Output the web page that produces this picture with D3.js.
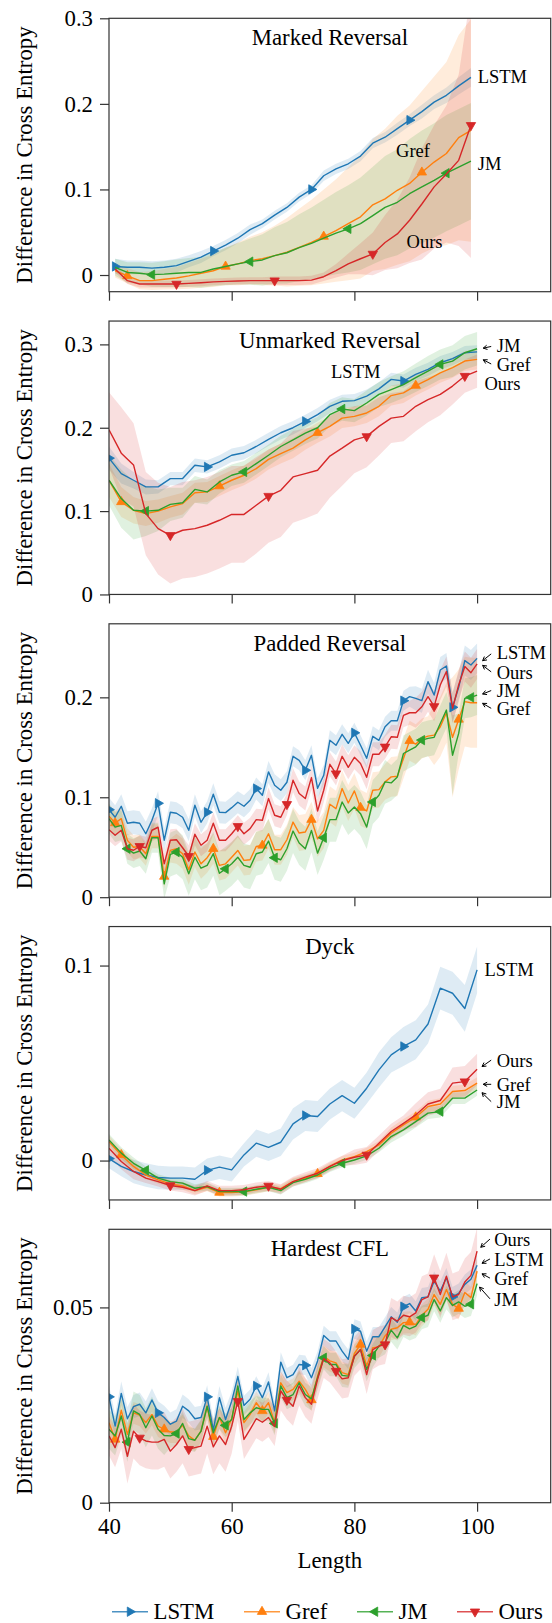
<!DOCTYPE html>
<html>
<head>
<meta charset="utf-8">
<script src="https://cdn.jsdelivr.net/npm/d3@7"></script>
<style>
  body { margin: 0; background: #fff; }
  text { font-family: "Liberation Serif", "Times New Roman", serif; }
</style>
</head>
<body>
<script>
// lengths on the x axis
let lengthsOdd = [41,43,45,47,49,51,53,55,57,59,61,63,65,67,69,71,73,75,77,79,81,83,85,87,89,91,93,95,97,99];
let lengthsEven = [40,42,44,46,48,50,52,54,56,58,60,62,64,66,68,70,72,74,76,78,80,82,84,86,88,90,92,94,96,98,100];
let lengthsAll = [40,41,42,43,44,45,46,47,48,49,50,51,52,53,54,55,56,57,58,59,60,61,62,63,64,65,66,67,68,69,70,
  71,72,73,74,75,76,77,78,79,80,81,82,83,84,85,86,87,88,89,90,91,92,93,94,95,96,97,98,99,100];

let xTicks = [40, 60, 80, 100];

// Marked Reversal
let markedLSTM = [0.010,0.009,0.009,0.008,0.009,0.011,0.016,0.021,0.028,0.035,0.043,0.053,0.060,0.070,0.079,0.091,0.100,0.116,0.124,0.130,0.139,0.154,0.161,0.171,0.181,0.191,0.202,0.210,0.221,0.231];
let markedLSTMStd = [0.009,0.008,0.008,0.008,0.008,0.008,0.007,0.007,0.006,0.006,0.006,0.006,0.005,0.005,0.005,0.005,0.005,0.006,0.006,0.006,0.006,0.006,0.006,0.007,0.007,0.008,0.008,0.009,0.010,0.011];
let markedGref = [0.005,-0.001,-0.0066,-0.0066,-0.005,-0.0035,-0.001,0.002,0.005,0.010,0.013,0.0168,0.019,0.0227,0.0266,0.0324,0.038,0.045,0.052,0.060,0.068,0.082,0.089,0.099,0.107,0.120,0.132,0.142,0.1605,0.169];
let markedGrefStd = [0.008,0.009,0.010,0.011,0.012,0.013,0.015,0.017,0.019,0.022,0.025,0.028,0.031,0.035,0.040,0.045,0.050,0.055,0.060,0.066,0.072,0.077,0.082,0.087,0.091,0.095,0.100,0.107,0.120,0.130];
let markedJM = [0.009,0.003,0.002,0.0004,0.001,0.002,0.003,0.003,0.007,0.010,0.013,0.0156,0.0176,0.0227,0.026,0.032,0.037,0.043,0.049,0.054,0.060,0.0695,0.079,0.085,0.095,0.103,0.1105,0.119,0.126,0.133];
let markedJMStd = [0.010,0.012,0.013,0.014,0.015,0.016,0.017,0.018,0.020,0.022,0.024,0.027,0.030,0.033,0.036,0.039,0.042,0.045,0.048,0.051,0.054,0.057,0.060,0.062,0.064,0.066,0.067,0.068,0.068,0.068];
let markedOurs = [0.007,-0.0066,-0.0105,-0.0105,-0.0105,-0.0105,-0.0098,-0.009,-0.008,-0.0074,-0.007,-0.0066,-0.0066,-0.0066,-0.0066,-0.0066,-0.006,-0.002,0.005,0.013,0.019,0.0246,0.038,0.048,0.064,0.083,0.103,0.118,0.134,0.175];
let markedOursStd = [0.004,0.004,0.004,0.004,0.004,0.004,0.004,0.004,0.004,0.004,0.004,0.004,0.004,0.005,0.005,0.005,0.005,0.005,0.008,0.012,0.018,0.025,0.032,0.040,0.050,0.065,0.072,0.080,0.100,0.155];

// Unmarked Reversal
let unmarkedLSTM = [0.1635,0.145,0.137,0.129,0.129,0.139,0.139,0.155,0.153,0.159,0.167,0.170,0.1775,0.186,0.194,0.200,0.2076,0.2157,0.2257,0.2317,0.2325,0.238,0.2466,0.258,0.256,0.264,0.270,0.278,0.283,0.290,0.291];
let unmarkedLSTMStd = [0.014,0.012,0.010,0.009,0.008,0.008,0.008,0.008,0.008,0.008,0.008,0.008,0.008,0.008,0.008,0.008,0.008,0.008,0.008,0.008,0.008,0.008,0.008,0.008,0.008,0.008,0.008,0.008,0.008,0.008,0.008];
let unmarkedGref = [0.137,0.111,0.101,0.097,0.100,0.105,0.109,0.122,0.123,0.130,0.137,0.143,0.151,0.162,0.169,0.1755,0.1855,0.194,0.2016,0.2116,0.2137,0.2177,0.2257,0.2386,0.2418,0.2506,0.2578,0.2659,0.272,0.280,0.282];
let unmarkedGrefStd = [0.020,0.018,0.016,0.015,0.014,0.013,0.013,0.012,0.012,0.012,0.012,0.012,0.012,0.012,0.012,0.012,0.012,0.012,0.012,0.012,0.012,0.012,0.012,0.012,0.012,0.012,0.012,0.012,0.012,0.012,0.012];
let unmarkedJM = [0.137,0.115,0.101,0.100,0.101,0.108,0.110,0.126,0.123,0.135,0.143,0.147,0.157,0.167,0.1775,0.1855,0.1936,0.200,0.2157,0.2225,0.2205,0.2297,0.240,0.2458,0.2518,0.260,0.268,0.276,0.280,0.290,0.2948];
let unmarkedJMStd = [0.030,0.035,0.035,0.030,0.025,0.020,0.018,0.016,0.015,0.014,0.013,0.013,0.013,0.013,0.013,0.013,0.013,0.013,0.014,0.014,0.014,0.015,0.015,0.016,0.016,0.017,0.018,0.018,0.019,0.020,0.020];
let unmarkedOurs = [0.1976,0.1695,0.1554,0.097,0.079,0.071,0.077,0.079,0.083,0.089,0.096,0.096,0.107,0.118,0.125,0.141,0.145,0.149,0.166,0.1755,0.1855,0.1896,0.2016,0.2116,0.2137,0.2257,0.2337,0.240,0.250,0.262,0.268];
let unmarkedOursStd = [0.045,0.055,0.050,0.050,0.055,0.058,0.058,0.058,0.058,0.058,0.058,0.058,0.058,0.056,0.056,0.055,0.054,0.052,0.050,0.045,0.040,0.037,0.035,0.030,0.030,0.030,0.027,0.025,0.022,0.020,0.020];

// Padded Reversal
let paddedLSTM = [0.0876,0.080,0.091,0.074,0.075,0.074,0.0635,0.077,0.094,0.057,
  0.085,0.084,0.080,0.067,0.092,0.075,0.085,0.103,0.085,0.0846,
  0.0896,0.095,0.091,0.097,0.1087,0.102,0.1254,0.112,0.107,0.115,
  0.141,0.137,0.127,0.142,0.109,0.122,0.157,0.152,0.163,0.154,
  0.1645,0.152,0.139,0.161,0.157,0.1706,0.1766,0.1766,0.1967,0.2007,
  0.199,0.1967,0.2157,0.2023,0.2274,0.2314,0.190,0.210,0.2368,0.2324,0.239];
let paddedLSTMStd = [0.012,0.012,0.012,0.012,0.012,0.012,0.012,0.012,0.012,0.012,
  0.011,0.011,0.011,0.011,0.011,0.011,0.011,0.011,0.011,0.011,
  0.011,0.011,0.011,0.011,0.011,0.011,0.011,0.011,0.011,0.011,
  0.010,0.010,0.010,0.010,0.010,0.010,0.010,0.010,0.010,0.010,
  0.010,0.010,0.010,0.010,0.010,0.010,0.010,0.010,0.010,0.010,
  0.012,0.012,0.012,0.012,0.013,0.013,0.015,0.015,0.015,0.015,0.015];
let paddedGref = [0.081,0.0742,0.0786,0.0569,0.050,0.0508,0.0435,0.0609,0.0609,0.0207,
  0.0468,0.0485,0.0435,0.0274,0.0452,0.0334,0.0395,0.0485,0.0318,0.0334,
  0.040,0.0468,0.0368,0.0375,0.0508,0.0518,0.0635,0.0475,0.0475,0.0575,
  0.0752,0.0642,0.0652,0.0776,0.0585,0.0669,0.093,0.0886,0.1087,0.0943,
  0.1064,0.0896,0.0863,0.107,0.1077,0.1154,0.1204,0.121,0.1388,0.1565,
  0.1532,0.1589,0.1612,0.1622,0.1706,0.1846,0.160,0.1779,0.1957,0.1946,0.1946];
let paddedGrefStd = [0.012,0.012,0.012,0.012,0.012,0.012,0.012,0.012,0.012,0.012,
  0.012,0.015,0.015,0.015,0.015,0.015,0.015,0.015,0.015,0.015,
  0.015,0.015,0.015,0.015,0.015,0.015,0.015,0.015,0.015,0.015,
  0.015,0.018,0.018,0.018,0.018,0.018,0.018,0.018,0.018,0.018,
  0.018,0.018,0.018,0.018,0.018,0.018,0.020,0.020,0.020,0.020,
  0.020,0.020,0.020,0.030,0.030,0.030,0.060,0.050,0.045,0.045,0.045];
let paddedJM = [0.0786,0.0702,0.0719,0.0485,0.0441,0.0462,0.0385,0.0595,0.0595,0.0134,
  0.0428,0.0452,0.040,0.0234,0.040,0.029,0.0318,0.0435,0.024,0.0284,
  0.0334,0.040,0.0318,0.030,0.0435,0.0452,0.0562,0.0395,0.0375,0.0485,
  0.0662,0.0542,0.0485,0.0669,0.0441,0.0595,0.0776,0.0776,0.0953,0.0843,
  0.0903,0.0836,0.0702,0.0953,0.102,0.1154,0.1144,0.1204,0.1438,0.1472,
  0.1505,0.1572,0.1589,0.160,0.1739,0.1873,0.1421,0.1639,0.199,0.200,0.2023];
let paddedJMStd = [0.015,0.015,0.015,0.015,0.015,0.015,0.015,0.015,0.015,0.015,
  0.022,0.022,0.022,0.022,0.022,0.022,0.022,0.022,0.022,0.022,
  0.022,0.022,0.022,0.022,0.022,0.022,0.022,0.022,0.022,0.022,
  0.022,0.022,0.022,0.022,0.022,0.022,0.022,0.022,0.022,0.022,
  0.022,0.022,0.022,0.022,0.022,0.022,0.018,0.018,0.018,0.018,
  0.018,0.018,0.018,0.018,0.018,0.018,0.040,0.020,0.020,0.020,0.020];
let paddedOurs = [0.0676,0.062,0.067,0.0485,0.047,0.051,0.0495,0.067,0.070,0.0334,
  0.057,0.0575,0.0495,0.041,0.063,0.052,0.057,0.074,0.057,0.057,
  0.0635,0.071,0.0635,0.0686,0.0776,0.077,0.0987,0.082,0.080,0.093,
  0.117,0.1037,0.0987,0.1197,0.0863,0.107,0.133,0.1237,0.141,0.130,
  0.140,0.1338,0.120,0.143,0.143,0.1505,0.1605,0.160,0.182,0.1846,
  0.1846,0.1906,0.2007,0.191,0.2124,0.2258,0.189,0.2124,0.2308,0.2247,0.2334];
let paddedOursStd = [0.011,0.011,0.011,0.011,0.011,0.011,0.011,0.011,0.011,0.011,
  0.011,0.011,0.011,0.011,0.011,0.011,0.011,0.011,0.011,0.011,
  0.011,0.011,0.011,0.011,0.011,0.011,0.011,0.011,0.011,0.011,
  0.012,0.012,0.012,0.012,0.012,0.012,0.012,0.012,0.012,0.012,
  0.012,0.012,0.012,0.012,0.012,0.012,0.012,0.012,0.012,0.012,
  0.015,0.015,0.015,0.015,0.015,0.015,0.015,0.015,0.015,0.015,0.015];

// Dyck
let dyckLSTM = [0.001,-0.003,-0.0056,-0.0074,-0.0087,-0.009,-0.009,-0.0096,-0.005,-0.0034,-0.0048,0.0029,0.0089,0.0068,0.0094,0.0188,0.0231,0.0226,0.029,0.0333,0.0294,0.0371,0.0465,0.0542,0.0585,0.0619,0.070,0.0884,0.0858,0.078,0.0978];
let dyckLSTMStd = [0.005,0.005,0.006,0.006,0.006,0.006,0.006,0.006,0.006,0.006,0.006,0.006,0.007,0.007,0.007,0.008,0.008,0.008,0.008,0.008,0.008,0.008,0.009,0.009,0.010,0.010,0.010,0.011,0.011,0.012,0.012];
let dyckGref = [0.0097,0.0029,-0.003,-0.0074,-0.0099,-0.012,-0.013,-0.0154,-0.0137,-0.0164,-0.0164,-0.016,-0.015,-0.0137,-0.0144,-0.0108,-0.009,-0.0068,-0.003,0.0003,0.002,0.0046,0.008,0.014,0.0183,0.0222,0.0277,0.029,0.0354,0.0359,0.0397];
let dyckGrefStd = [0.003,0.003,0.003,0.002,0.002,0.002,0.002,0.002,0.002,0.002,0.002,0.002,0.002,0.002,0.002,0.002,0.002,0.002,0.002,0.002,0.002,0.002,0.002,0.003,0.003,0.003,0.003,0.003,0.003,0.003,0.003];
let dyckJM = [0.0106,0.0038,-0.0014,-0.005,-0.009,-0.0108,-0.0116,-0.0142,-0.0133,-0.0159,-0.0159,-0.0159,-0.0147,-0.0137,-0.0154,-0.0113,-0.0096,-0.0074,-0.0039,-0.0014,0.0003,0.0024,0.0063,0.0123,0.0157,0.020,0.0243,0.0251,0.032,0.032,0.0362];
let dyckJMStd = [0.003,0.003,0.003,0.002,0.002,0.002,0.002,0.002,0.002,0.002,0.002,0.002,0.002,0.002,0.002,0.002,0.002,0.002,0.002,0.002,0.002,0.002,0.002,0.003,0.003,0.003,0.003,0.003,0.003,0.003,0.003];
let dyckOurs = [0.0063,-0.0005,-0.0056,-0.009,-0.0108,-0.0128,-0.0137,-0.0154,-0.013,-0.0154,-0.0154,-0.015,-0.0137,-0.013,-0.0147,-0.0108,-0.0085,-0.0065,-0.003,0,0.0017,0.0029,0.0089,0.0149,0.0191,0.0234,0.029,0.0308,0.0397,0.0405,0.0468];
let dyckOursStd = [0.004,0.004,0.004,0.0025,0.0025,0.0025,0.0025,0.0025,0.0025,0.0025,0.0025,0.0025,0.0025,0.0025,0.0025,0.0025,0.0025,0.0025,0.0025,0.0025,0.004,0.004,0.004,0.004,0.004,0.006,0.006,0.006,0.008,0.008,0.008];

// Hardest CFL
let cflLSTM = [0.0271,0.0196,0.028,0.0215,0.0246,0.0252,0.023,0.0263,0.023,0.0218,
  0.0201,0.0209,0.0247,0.0235,0.0215,0.0218,0.0271,0.0186,0.0269,0.0213,
  0.026,0.0323,0.0249,0.0265,0.0299,0.0269,0.0309,0.0235,0.036,0.032,
  0.0328,0.0354,0.0352,0.032,0.0363,0.0428,0.0414,0.0414,0.0388,0.0367,
  0.0445,0.0439,0.0388,0.0425,0.0425,0.045,0.0476,0.0462,0.0502,0.051,
  0.0491,0.0525,0.0527,0.0567,0.0542,0.0576,0.0527,0.0536,0.0559,0.0572,0.0608];
let cflLSTMStd = [0.003,0.003,0.003,0.003,0.003,0.003,0.003,0.003,0.003,0.003,
  0.003,0.003,0.003,0.003,0.003,0.003,0.003,0.003,0.003,0.003,
  0.0025,0.0025,0.0025,0.0025,0.0025,0.0025,0.0025,0.0025,0.0025,0.0025,
  0.0025,0.0025,0.0025,0.0025,0.0025,0.0025,0.0025,0.0025,0.0025,0.0025,
  0.0025,0.0025,0.0025,0.0025,0.0025,0.0025,0.0025,0.0025,0.0025,0.0025,
  0.0025,0.0025,0.0025,0.0025,0.0025,0.0025,0.0025,0.0025,0.0025,0.0025,0.003];
let cflGref = [0.0205,0.0162,0.0237,0.0175,0.023,0.0224,0.0205,0.0226,0.0196,0.0188,
  0.0181,0.0181,0.0198,0.0171,0.016,0.0183,0.0247,0.0169,0.0218,0.0179,
  0.0215,0.0286,0.0205,0.0226,0.0256,0.0235,0.0256,0.0205,0.0307,0.0282,
  0.029,0.0311,0.029,0.0263,0.0324,0.0375,0.0363,0.0358,0.0333,0.0328,
  0.0382,0.0405,0.035,0.0397,0.0399,0.0427,0.0444,0.0448,0.0461,0.0462,
  0.0456,0.048,0.0495,0.0533,0.0508,0.0546,0.0508,0.0497,0.0538,0.0525,0.0593];
let cflGrefStd = [0.0028,0.0028,0.0028,0.0028,0.0028,0.0028,0.0028,0.0028,0.0028,0.0028,
  0.0028,0.0028,0.0028,0.0028,0.0028,0.0028,0.0028,0.0028,0.0028,0.0028,
  0.0028,0.0028,0.0028,0.0028,0.0028,0.0028,0.0028,0.0028,0.0028,0.0028,
  0.0028,0.0028,0.0028,0.0028,0.0028,0.0028,0.0028,0.0028,0.0028,0.0028,
  0.0028,0.0028,0.0028,0.0028,0.0028,0.0028,0.0028,0.0028,0.0028,0.0028,
  0.0028,0.0028,0.0028,0.0028,0.0028,0.0028,0.0028,0.0028,0.0028,0.0028,0.0035];
let cflJM = [0.0188,0.0171,0.0222,0.0155,0.0235,0.0226,0.0192,0.0222,0.0188,0.0172,
  0.0171,0.0177,0.0203,0.0164,0.016,0.0183,0.0247,0.0179,0.0218,0.0198,
  0.0213,0.0299,0.0213,0.023,0.0243,0.0239,0.0239,0.0203,0.0299,0.0269,
  0.0277,0.0307,0.0277,0.0266,0.032,0.0371,0.0354,0.0354,0.0326,0.0324,
  0.0375,0.0392,0.0341,0.0377,0.0401,0.041,0.0442,0.0422,0.0454,0.0445,
  0.0452,0.0474,0.048,0.052,0.0491,0.0525,0.0505,0.0514,0.0503,0.0508,0.0561];
let cflJMStd = [0.005,0.005,0.005,0.005,0.005,0.005,0.005,0.005,0.005,0.005,
  0.003,0.003,0.003,0.003,0.003,0.003,0.003,0.003,0.003,0.003,
  0.003,0.003,0.003,0.003,0.003,0.003,0.003,0.003,0.003,0.003,
  0.003,0.003,0.003,0.003,0.003,0.003,0.003,0.003,0.003,0.003,
  0.003,0.003,0.003,0.003,0.003,0.003,0.003,0.003,0.003,0.003,
  0.003,0.003,0.003,0.003,0.003,0.003,0.003,0.003,0.003,0.003,0.003];
let cflOurs = [0.0171,0.0141,0.0188,0.0119,0.0183,0.0166,0.0158,0.0155,0.0155,0.0162,
  0.0132,0.0149,0.0171,0.0137,0.0141,0.0145,0.0196,0.0143,0.0171,0.0149,
  0.0196,0.026,0.0162,0.0188,0.0215,0.0206,0.0218,0.0195,0.0286,0.0263,
  0.0247,0.0299,0.0269,0.0252,0.0316,0.0369,0.0358,0.0337,0.0317,0.032,
  0.0375,0.0392,0.0328,0.0392,0.0401,0.0405,0.0474,0.0465,0.048,0.0476,
  0.0486,0.052,0.0527,0.0576,0.0533,0.058,0.0527,0.0533,0.0565,0.0582,0.0644];
let cflOursStd = [0.005,0.005,0.005,0.007,0.007,0.007,0.007,0.007,0.007,0.007,
  0.007,0.007,0.007,0.007,0.007,0.007,0.007,0.007,0.007,0.007,
  0.007,0.005,0.005,0.005,0.005,0.005,0.005,0.005,0.005,0.005,
  0.005,0.005,0.005,0.005,0.005,0.005,0.005,0.005,0.005,0.005,
  0.005,0.005,0.005,0.005,0.005,0.005,0.005,0.005,0.005,0.005,
  0.005,0.006,0.006,0.006,0.006,0.006,0.006,0.006,0.006,0.006,0.006];

let names = ["LSTM", "Gref", "JM", "Ours"];
let colors = ["#1f77b4", "#ff7f0e", "#2ca02c", "#d62728"];
let markerStart = [0, 1, 3, 5];     // first marked point of each series
let markerTurn = [90, 0, -90, 180];  // > ^ < v
let markEvery = 8;

// label = [name, x, y, tailX, tailY, tipX, tipY] in data units (no arrow if tail is missing)
let panels = [
  { title: "Marked Reversal", x: lengthsOdd, y: [-0.0195, 0.3],
    ticks: [0, 0.1, 0.2, 0.3], tickLabels: ["0", "0.1", "0.2", "0.3"],
    series: [[markedLSTM, markedLSTMStd], [markedGref, markedGrefStd], [markedJM, markedJMStd], [markedOurs, markedOursStd]],
    labels: [["LSTM", 100.1, 0.232], ["Gref", 86.8, 0.145], ["JM", 100.1, 0.130], ["Ours", 88.5, 0.0386]] },
  { title: "Unmarked Reversal", x: lengthsEven, y: [0, 0.328],
    ticks: [0, 0.1, 0.2, 0.3], tickLabels: ["0", "0.1", "0.2", "0.3"],
    series: [[unmarkedLSTM, unmarkedLSTMStd], [unmarkedGref, unmarkedGrefStd], [unmarkedJM, unmarkedJMStd], [unmarkedOurs, unmarkedOursStd]],
    labels: [["JM", 103.2, 0.298, 102.3, 0.2975, 101.0, 0.2955], ["Gref", 103.2, 0.2753, 102.3, 0.2765, 101.0, 0.2815],
             ["Ours", 101.2, 0.2534], ["LSTM", 76.2, 0.2673]] },
  { title: "Padded Reversal", x: lengthsAll, y: [0, 0.2736],
    ticks: [0, 0.1, 0.2], tickLabels: ["0", "0.1", "0.2"],
    series: [[paddedLSTM, paddedLSTMStd], [paddedGref, paddedGrefStd], [paddedJM, paddedJMStd], [paddedOurs, paddedOursStd]],
    labels: [["LSTM", 103.2, 0.245, 102.3, 0.2435, 100.9, 0.2367], ["Ours", 103.2, 0.2242, 102.3, 0.2255, 100.9, 0.232],
             ["JM", 103.2, 0.2068, 102.3, 0.2068, 100.9, 0.2033], ["Gref", 103.2, 0.1888, 102.3, 0.189, 100.9, 0.194]] },
  { title: "Dyck", x: lengthsEven, y: [-0.0202, 0.12],
    ticks: [0, 0.1], tickLabels: ["0", "0.1"],
    series: [[dyckLSTM, dyckLSTMStd], [dyckGref, dyckGrefStd], [dyckJM, dyckJMStd], [dyckOurs, dyckOursStd]],
    labels: [["LSTM", 101.2, 0.0977], ["Ours", 103.2, 0.051, 102.3, 0.0515, 100.8, 0.0482],
             ["Gref", 103.2, 0.0389, 102.3, 0.0391, 101.0, 0.0391], ["JM", 103.2, 0.0300, 102.3, 0.0302, 100.8, 0.0348]] },
  { title: "Hardest CFL", x: lengthsAll, y: [0, 0.07],
    ticks: [0, 0.05], tickLabels: ["0", "0.05"],
    series: [[cflLSTM, cflLSTMStd], [cflGref, cflGrefStd], [cflJM, cflJMStd], [cflOurs, cflOursStd]],
    labels: [["Ours", 102.8, 0.0673, 102.1, 0.0675, 100.6, 0.0654], ["LSTM", 102.8, 0.0621, 102.1, 0.0624, 100.8, 0.0613],
             ["Gref", 102.8, 0.0573, 102.1, 0.0575, 100.8, 0.0586], ["JM", 102.8, 0.0519, 102.1, 0.0522, 100.4, 0.0552]] }
];

function graficar() {
  let w = 552;
  let h = 1623;
  let left = 109, right = 550.7;
  let top0 = 18.3, pitch = 302.75, ph = 273.4;
  let font = 22.8;

  let svg = d3.select("body").append("svg").attr("width", w).attr("height", h);
  let x = d3.scaleLinear().domain([40, 112]).range([left, right]);
  let tri = d3.symbol().type(d3.symbolTriangle).size(38);

  panels.forEach(function (p, pi) {
    let y0 = top0 + pi * pitch;
    let y = d3.scaleLinear().domain(p.y).range([y0 + ph, y0]);
    let g = svg.append("g");

    g.append("clipPath").attr("id", "clip" + pi)
      .append("rect").attr("x", left).attr("y", y0).attr("width", right - left).attr("height", ph);
    let plot = g.append("g").attr("clip-path", "url(#clip" + pi + ")");

    // bands first, then lines and markers
    p.series.forEach(function (s, si) {
      let area = d3.area()
        .x(function (d, i) { return x(p.x[i]); })
        .y0(function (d, i) { return y(d - s[1][i]); })
        .y1(function (d, i) { return y(d + s[1][i]); });
      plot.append("path").attr("d", area(s[0]))
        .attr("fill", colors[si]).attr("fill-opacity", 0.15).attr("stroke", "none");
    });

    p.series.forEach(function (s, si) {
      let line = d3.line()
        .x(function (d, i) { return x(p.x[i]); })
        .y(function (d) { return y(d); });
      plot.append("path").attr("d", line(s[0]))
        .attr("fill", "none").attr("stroke", colors[si]).attr("stroke-width", 1.4)
        .attr("stroke-linejoin", "round");

      let marked = s[0].map(function (d, i) { return [p.x[i], d, i]; })
        .filter(function (d) { return d[2] >= markerStart[si] && (d[2] - markerStart[si]) % markEvery === 0; });
      plot.selectAll(null).data(marked).enter().append("path")
        .attr("d", tri)
        .attr("transform", function (d) {
          return "translate(" + x(d[0]) + "," + y(d[1]) + ") rotate(" + markerTurn[si] + ")";
        })
        .attr("fill", colors[si]).attr("stroke", colors[si]).attr("stroke-width", 0.8);
    });

    // axes
    let ya = g.append("g").attr("transform", "translate(" + left + ",0)")
      .call(d3.axisLeft(y).tickValues(p.ticks)
        .tickFormat(function (d, i) { return p.tickLabels[i]; })
        .tickSize(9).tickPadding(7).tickSizeOuter(0));
    let xa = g.append("g").attr("transform", "translate(0," + (y0 + ph) + ")")
      .call(d3.axisBottom(x).tickValues(xTicks)
        .tickFormat(pi === panels.length - 1 ? d3.format("d") : function () { return ""; })
        .tickSize(9).tickPadding(6).tickSizeOuter(0));
    [ya, xa].forEach(function (a) {
      a.select(".domain").remove();
      a.selectAll("line").attr("stroke", "#333").attr("stroke-width", 1.2);
      a.selectAll("text").attr("font-family", "Liberation Serif, Times New Roman, serif")
        .attr("font-size", font).attr("fill", "#000");
    });

    g.append("rect").attr("x", left).attr("y", y0).attr("width", right - left).attr("height", ph)
      .attr("fill", "none").attr("stroke", "#333").attr("stroke-width", 1.2);

    g.append("text").attr("x", (left + right) / 2).attr("y", y0 + 27)
      .attr("text-anchor", "middle").attr("font-size", font).text(p.title);

    g.append("text")
      .attr("transform", "translate(24," + (y0 + ph / 2) + ") rotate(-90)")
      .attr("dy", "0.35em").attr("text-anchor", "middle").attr("font-size", font)
      .text("Difference in Cross Entropy");

    // series labels with little arrows
    p.labels.forEach(function (l) {
      g.append("text").attr("x", x(l[1])).attr("y", y(l[2])).attr("dy", "0.34em")
        .attr("font-size", 18.5).text(l[0]);
      if (l.length > 3) {
        let x1 = x(l[3]), y1 = y(l[4]), x2 = x(l[5]), y2 = y(l[6]);
        let ang = Math.atan2(y2 - y1, x2 - x1);
        let hl = 4.5, ha = 0.5;
        g.append("path")
          .attr("d", "M" + x1 + "," + y1 + "L" + x2 + "," + y2 +
            "M" + (x2 - hl * Math.cos(ang - ha)) + "," + (y2 - hl * Math.sin(ang - ha)) +
            "L" + x2 + "," + y2 +
            "L" + (x2 - hl * Math.cos(ang + ha)) + "," + (y2 - hl * Math.sin(ang + ha)))
          .attr("fill", "none").attr("stroke", "#000").attr("stroke-width", 1);
      }
    });
  });

  svg.append("text").attr("x", (left + right) / 2).attr("y", 1568)
    .attr("text-anchor", "middle").attr("font-size", font).text("Length");

  // legend
  let legX = [112, 244, 357, 457];
  let legY = 1611.7;
  names.forEach(function (n, i) {
    let lg = svg.append("g");
    lg.append("line").attr("x1", legX[i]).attr("x2", legX[i] + 36)
      .attr("y1", legY).attr("y2", legY)
      .attr("stroke", colors[i]).attr("stroke-width", 1.6).attr("stroke-opacity", 0.8);
    lg.append("path").attr("d", tri)
      .attr("transform", "translate(" + (legX[i] + 18) + "," + legY + ") rotate(" + markerTurn[i] + ")")
      .attr("fill", colors[i]).attr("stroke", colors[i]).attr("stroke-width", 0.8);
    lg.append("text").attr("x", legX[i] + 41.5).attr("y", legY).attr("dy", "0.34em")
      .attr("font-size", font).text(n);
  });
}

graficar();
</script>
</body>
</html>
